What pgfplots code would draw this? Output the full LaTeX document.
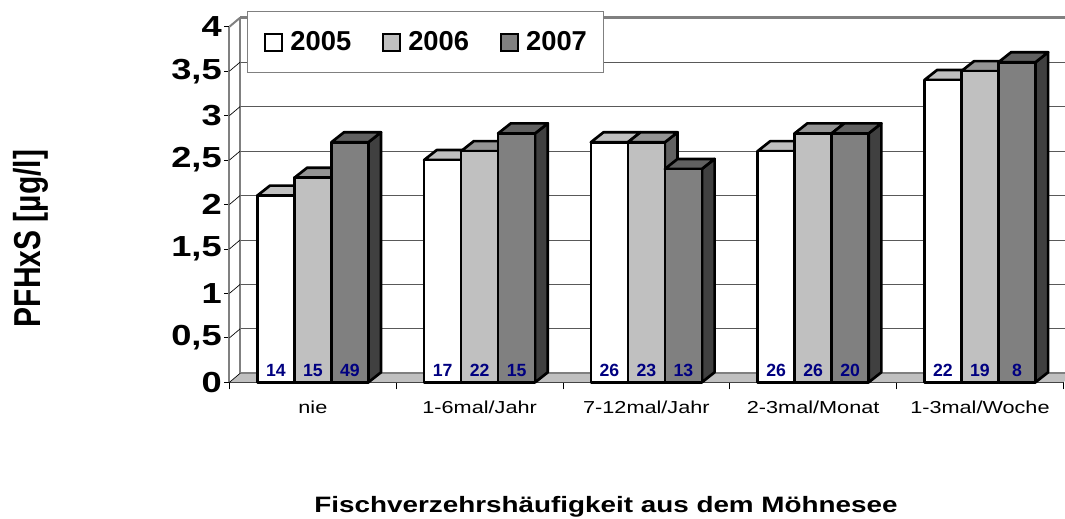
\documentclass[border=0pt]{standalone}
\usepackage{fontspec}
\setmainfont{Liberation Sans}
\newfontfamily\wide{Liberation Sans}[FakeStretch=1.25]
\usepackage{graphicx}
\usepackage{pgfplots}
\pgfplotsset{compat=1.18}
\usepackage{pgfplotstable}

\definecolor{navy}{HTML}{000080}
\definecolor{floorc}{HTML}{C0C0C0}
\definecolor{wallc}{HTML}{808080}

% median PFHxS per group and year, with group sizes n
\pgfplotstableread{
cat y05 y06 y07 n05 n06 n07
0   2.1 2.3 2.7 14  15  49
1   2.5 2.6 2.8 17  22  15
2   2.7 2.7 2.4 26  23  13
3   2.6 2.8 2.8 26  26  20
4   3.4 3.5 3.6 22  19  8
}\datatable

% 3d column drawn at each data point: front, top, side colour
\pgfplotsset{
  box3d/.style n args={3}{
    only marks, mark=*, mark size=0pt, scatter,
    point meta=explicit symbolic,
    mark options={draw=none, fill=none},
    visualization depends on={rawy \as \rawy},
    scatter/@pre marker code/.code={
      \pgfmathsetmacro\barH{\rawy*66.675}
      \filldraw[fill=#3, draw=black, line width=2pt, line join=round]
        (13.875pt,-\barH pt) -- (23.375pt,-\barH pt+7.5pt) -- (23.375pt,7.5pt) -- (13.875pt,0pt) -- cycle;
      \filldraw[fill=#2, draw=black, line width=2pt, line join=round]
        (-13.875pt,0pt) -- (13.875pt,0pt) -- (23.375pt,7.5pt) -- (-4.375pt,7.5pt) -- cycle;
      \filldraw[fill=#1, draw=black, line width=2pt, line join=round]
        (-13.875pt,-\barH pt) rectangle (13.875pt,0pt);
      \node[anchor=base, inner sep=0pt, text=navy, font=\bfseries\fontsize{13.25}{14}\selectfont]
        at (0pt,-\barH pt+4.2pt) {\pgfplotspointmeta};
      \begin{scope}
    },
    scatter/@post marker code/.code={\end{scope}},
  },
}

\begin{document}
\begin{tikzpicture}
  \useasboundingbox (-172.1pt,-102.5pt) rectangle (626.6pt,286.7pt);
  \begin{axis}[
      at={(0,0)}, anchor=south west,
      scale only axis, width=625.35pt, height=266.7pt,
      xmin=0, xmax=5, ymin=0, ymax=4,
      clip=false,
      axis x line*=bottom, axis y line*=left,
      x axis line style={black, line width=0.75pt},
      y axis line style={wallc, line width=1.5pt},
      xtick={0.5,1.5,2.5,3.5,4.5},
      xticklabels={nie, 1-6mal/Jahr, 7-12mal/Jahr, 2-3mal/Monat, 1-3mal/Woche},
      minor xtick={0,1,2,3,4,5},
      major x tick style={draw=none},
      minor x tick style={black, line width=0.6pt},
      ytick={0,0.5,...,4},
      ytick style={black, line width=0.6pt},
      tick align=outside,
      major tick length=3.75pt, minor tick length=5.25pt,
      ymajorgrids,
      major grid style={xshift=8pt, yshift=6.75pt, gray!70!black, line width=0.6pt},
      /pgf/number format/use comma,
      /pgf/number format/assume math mode=true,
      yticklabel style={anchor=east, inner sep=0pt, xshift=-1.9pt,
        font=\wide\bfseries\fontsize{21.75}{22}\selectfont},
      xticklabel style={anchor=base, yshift=-20pt,
        font=\wide\fontsize{13}{15}\selectfont},
      xlabel={Fischverzehrsh\"aufigkeit aus dem M\"ohnesee},
      every axis x label/.style={at={(axis description cs:0.4516,-0.3667)}, anchor=base,
        font=\wide\bfseries\fontsize{16.7}{18}\selectfont},
      ylabel={\scalebox{1}[1.25]{PFHxS [µg/l]}},
      every axis y label/.style={at={(axis description cs:-0.2380,0.4044)}, rotate=90, anchor=center,
        font=\bfseries\fontsize{22.5}{24}\selectfont},
      legend columns=3,
      legend style={at={(axis description cs:0.021,1.045)}, anchor=north west,
        draw=wallc, line width=0.75pt, fill=white,
        inner xsep=12.75pt, inner ysep=15.25pt,
        nodes={inner sep=0pt},
        font=\bfseries\fontsize{20.5}{22}\selectfont,
        /tikz/every odd column/.append style={column sep=5.25pt},
        /tikz/every even column/.append style={column sep=23.25pt}},
    ]
    % floor and left wall
    \fill[floorc] (axis cs:0,0) -- (axis cs:5,0) -- ([shift={(8pt,6.75pt)}]axis cs:5,0)
      -- ([shift={(8pt,6.75pt)}]axis cs:0,0) -- cycle;
    \draw[wallc, line width=1.5pt] ([shift={(8pt,6.75pt)}]axis cs:0,0) -- ([shift={(8pt,6.75pt)}]axis cs:5,0);
    \draw[wallc, line width=1.5pt] ([shift={(8pt,6.75pt)}]axis cs:0,0) -- ([shift={(8pt,6.75pt)}]axis cs:0,4);
    \draw[wallc, line width=2.2pt] ([shift={(8pt,6.75pt)}]axis cs:0,4) -- ([shift={(8pt,6.75pt)}]axis cs:5,4);
    \draw[wallc, line width=1.5pt] (axis cs:0,4) -- ([shift={(8pt,6.75pt)}]axis cs:0,4);
    \pgfplotsinvokeforeach{0,0.5,1,1.5,2,2.5,3,3.5}{
      \draw[black, line width=0.5pt] (axis cs:0,#1) -- ++(8pt,6.75pt);
    }

    \addplot[box3d={white}{floorc}{wallc},
      legend image code/.code={\draw[line width=1.5pt, fill=white] (0.75pt,-6.75pt) rectangle (13.5pt,6pt);}]
      table[x expr=\coordindex+0.278, y=y05, meta=n05] {\datatable};
    \addlegendentry{2005}
    \addplot[box3d={floorc}{black!42}{black!62},
      legend image code/.code={\draw[line width=1.5pt, fill=floorc] (0.75pt,-6.75pt) rectangle (13.5pt,6pt);}]
      table[x expr=\coordindex+0.5, y=y06, meta=n06] {\datatable};
    \addlegendentry{2006}
    \addplot[box3d={wallc}{black!62}{black!75},
      legend image code/.code={\draw[line width=1.5pt, fill=wallc] (0.75pt,-6.75pt) rectangle (13.5pt,6pt);}]
      table[x expr=\coordindex+0.722, y=y07, meta=n07] {\datatable};
    \addlegendentry{2007}
  \end{axis}
\end{tikzpicture}
\end{document}
